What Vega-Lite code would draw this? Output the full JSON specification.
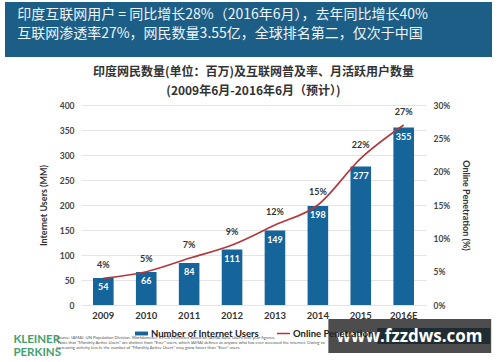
{
  "$schema": "https://vega.github.io/schema/vega-lite/v6.json",
  "background": "#ffffff",
  "padding": {"top": 2, "left": 5, "right": 8, "bottom": 0},
  "config": {"view": {"stroke": null}, "font": "Lato", "legend": {"layout": {"bottom": {"anchor": "middle", "direction": "horizontal", "margin": 16}}}},
  "spacing": 9,
  "resolve": {"scale": {"fill": "independent", "stroke": "independent"}},
  "vconcat": [
    {
      "width": 487,
      "height": 55,
      "view": {"fill": "#1c5e86", "stroke": null},
      "data": {"values": [
        {"row": 1, "text": "印度互联网用户 = 同比增长28%（2016年6月），去年同比增长40%"},
        {"row": 2, "text": "互联网渗透率27%，网民数量3.55亿，全球排名第二，仅次于中国"}
      ]},
      "mark": {"type": "text", "align": "left", "baseline": "middle", "font": "Noto Sans CJK SC", "fontSize": 14, "color": "#eef4f8"},
      "encoding": {
        "x": {"datum": 0, "type": "quantitative", "scale": {"domain": [-2.5, 97.5]}, "axis": null},
        "y": {"field": "row", "type": "ordinal", "scale": {"type": "point", "padding": 1, "align": 0.36}, "axis": null},
        "text": {"field": "text"}
      }
    },
    {
      "spacing": 0,
      "resolve": {"scale": {"fill": "independent", "stroke": "independent"}},
      "hconcat": [
        {
          "width": 8,
          "height": 10,
          "data": {"values": []},
          "mark": {"type": "point", "opacity": 0},
          "encoding": {}
        },
        {
          "width": 345,
          "height": 200,
          "title": {
            "text": ["印度网民数量(单位：百万)及互联网普及率、月活跃用户数量", "(2009年6月-2016年6月（预计）)"],
            "font": "Noto Sans CJK SC", "fontSize": 12, "fontWeight": "bold", "color": "#333333", "lineHeight": 19, "offset": 3
          },
          "layer": [
            {
              "data": {"values": [
                {"year": "2009", "users": 54, "pen": 0.04},
                {"year": "2010", "users": 66, "pen": 0.05},
                {"year": "2011", "users": 84, "pen": 0.07},
                {"year": "2012", "users": 111, "pen": 0.09},
                {"year": "2013", "users": 149, "pen": 0.12},
                {"year": "2014", "users": 198, "pen": 0.15},
                {"year": "2015", "users": 277, "pen": 0.22},
                {"year": "2016E", "users": 355, "pen": 0.27}
              ]},
              "encoding": {
                "x": {"field": "year", "type": "ordinal", "sort": null,
                  "scale": {"paddingInner": 0.52, "paddingOuter": 0.28},
                  "axis": {"title": null, "labelAngle": 0, "labelFontSize": 9.5, "labelFontWeight": "bold", "labelColor": "#333333", "labelPadding": 5, "domain": false, "ticks": false}}
              },
              "layer": [
                {
                  "encoding": {
                    "y": {"field": "users", "type": "quantitative", "scale": {"domain": [0, 400]},
                      "axis": {"title": "Internet Users (MM)", "values": [0, 50, 100, 150, 200, 250, 300, 350, 400], "grid": true, "gridColor": "#e4e4e4", "domain": false, "ticks": false,
                        "labelFontSize": 8.5, "labelFontWeight": "bold", "labelColor": "#444444", "labelPadding": 7,
                        "titleFontSize": 9, "titleFontWeight": "bold", "titleColor": "#333333", "titlePadding": 11}}
                  },
                  "layer": [
                    {
                      "mark": {"type": "bar"},
                      "encoding": {
                        "fill": {"datum": "Number of Internet Users", "type": "nominal", "scale": {"range": ["#15659b"]},
                          "legend": {"title": null, "orient": "bottom", "direction": "horizontal", "symbolType": "M-1,-0.3H1V0.3H-1Z", "symbolSize": 169, "labelOffset": 2, "labelFont": "Lato", "labelFontSize": 9.5, "labelFontWeight": "bold", "labelColor": "#222222", "offset": 6}}
                      }
                    },
                    {
                      "mark": {"type": "text", "dy": 9, "color": "#ffffff", "fontSize": 9, "fontWeight": "bold"},
                      "encoding": {"text": {"field": "users", "type": "quantitative"}}
                    }
                  ]
                },
                {
                  "encoding": {
                    "y": {"field": "pen", "type": "quantitative", "scale": {"domain": [0, 0.3]},
                      "axis": {"orient": "right", "title": "Online Penetration (%)", "values": [0, 0.05, 0.1, 0.15, 0.2, 0.25, 0.3], "format": ".0%", "grid": false, "domain": false, "ticks": false,
                        "labelFontSize": 8.5, "labelFontWeight": "bold", "labelColor": "#444444", "labelPadding": 7,
                        "titleFontSize": 9, "titleFontWeight": "bold", "titleColor": "#333333", "titlePadding": 11}}
                  },
                  "layer": [
                    {
                      "mark": {"type": "line", "interpolate": "monotone", "strokeWidth": 1.6},
                      "encoding": {
                        "stroke": {"datum": "Online Penetration", "type": "nominal", "scale": {"range": ["#b4373c"]},
                          "legend": {"title": null, "orient": "bottom", "direction": "horizontal", "symbolType": "stroke", "symbolSize": 169, "symbolStrokeWidth": 1.5, "labelOffset": 2, "labelFont": "Lato", "labelFontSize": 9.5, "labelFontWeight": "bold", "labelColor": "#222222", "offset": 6}}
                      }
                    },
                    {
                      "mark": {"type": "text", "dy": -13, "color": "#333333", "fontSize": 9, "fontWeight": "bold"},
                      "encoding": {"text": {"field": "pen", "type": "quantitative", "format": ".0%"}}
                    }
                  ]
                }
              ],
              "resolve": {"scale": {"y": "independent"}}
            },
            {
              "layer": [
                {
                  "data": {"values": [{"label": "KLEINER\nPERKINS"}]},
                  "mark": {"type": "text", "align": "left", "baseline": "top", "lineBreak": "\n", "lineHeight": 13, "font": "Lato", "fontSize": 11.5, "fontWeight": "bold", "color": "#3fa26f"},
                  "encoding": {
                    "x": {"datum": -19.6, "type": "quantitative", "scale": {"domain": [0, 100]}, "axis": null},
                    "y": {"datum": 114.5, "type": "quantitative", "scale": {"domain": [0, 100], "reverse": true}, "axis": null},
                    "text": {"field": "label"}
                  }
                },
                {
                  "data": {"values": [{"label": "Source: IAMAI, UN Population Division, Worldometer, KPCB estimates based on IAMAI data. Users mid-year figures.\n*Note that \"Monthly Active Users\" are distinct from \"Ever\" users, which IAMAI defines as anyone who has ever accessed the internet. Owing to\nincreasing activity levels, the number of \"Monthly Active Users\" may grow faster than \"Ever\" users."}]},
                  "mark": {"type": "text", "align": "left", "baseline": "top", "lineBreak": "\n", "lineHeight": 5.2, "fontSize": 4.3, "color": "#555555"},
                  "encoding": {
                    "x": {"datum": -7.2, "type": "quantitative"},
                    "y": {"datum": 115.5, "type": "quantitative"},
                    "text": {"field": "label"}
                  }
                },
                {
                  "data": {"values": [{"label": "box"}]},
                  "mark": {"type": "rect", "color": "#3a3a3a", "opacity": 0.9},
                  "encoding": {
                    "x": {"datum": 71.7, "type": "quantitative"},
                    "x2": {"datum": 118.9},
                    "y": {"datum": 107, "type": "quantitative"},
                    "y2": {"datum": 124}
                  }
                },
                {
                  "data": {"values": [{"label": "inner"}]},
                  "mark": {"type": "rect", "color": "#1c2a32", "opacity": 0.95},
                  "encoding": {
                    "x": {"datum": 85.9, "type": "quantitative"},
                    "x2": {"datum": 118.6},
                    "y": {"datum": 111.5, "type": "quantitative"},
                    "y2": {"datum": 119.5}
                  }
                },
                {
                  "data": {"values": [{"label": "www.fzzdws.com"}]},
                  "mark": {"type": "text", "align": "center", "baseline": "middle", "font": "Open Sans", "fontSize": 17, "fontWeight": "bold", "color": "#ffffff"},
                  "encoding": {
                    "x": {"datum": 95.2, "type": "quantitative"},
                    "y": {"datum": 116, "type": "quantitative"},
                    "text": {"field": "label"}
                  }
                }
              ]
            }
          ],
          "resolve": {"scale": {"x": "independent", "y": "independent"}}
        }
      ]
    }
  ]
}
